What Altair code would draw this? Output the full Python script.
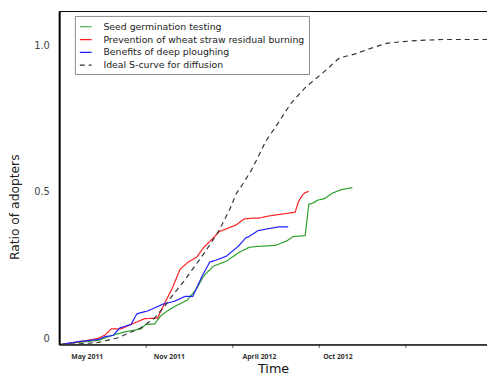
import altair as alt
import pandas as pd

# Series names (legend order)
series_names = [
    "Seed germination testing",
    "Prevention of wheat straw residual burning",
    "Benefits of deep ploughing",
    "Ideal S-curve for diffusion",
]
series_colors = ["#2ca02c", "#ff2020", "#2020ff", "#333333"]
series_dashes = [[1, 0], [1, 0], [1, 0], [5, 4]]

# x = weeks since start, y = ratio of adopters
green_x = [0.5, 5.9, 11.8, 15.7, 19.8, 24.6, 26.0, 28.7, 30.5, 32.5, 35.5, 38.5, 41.4, 43.5, 46.4, 50.3,
           54.1, 57.1, 59.2, 65.1, 68.6, 70.4, 74.0, 75.1, 76.3, 77.8, 79.9, 82.0, 84.9, 88.2]
green_y = [-0.019, -0.013, -0.006, 0.010, 0.023, 0.033, 0.048, 0.050, 0.077, 0.094, 0.114, 0.131, 0.171, 0.214,
           0.247, 0.264, 0.294, 0.311, 0.314, 0.318, 0.334, 0.348, 0.351, 0.458, 0.462, 0.472, 0.478, 0.495,
           0.508, 0.515]

red_x = [0.6, 8.0, 11.8, 13.9, 15.7, 18.6, 22.8, 25.7, 29.6, 31.7, 34.0, 36.4, 38.8, 41.4, 43.5, 45.9, 48.2,
         51.2, 53.3, 55.6, 58.6, 60.1, 63.0, 67.2, 71.0, 71.9, 73.1, 74.0, 75.1]
red_y = [-0.020, -0.007, 0.001, 0.013, 0.033, 0.033, 0.054, 0.068, 0.070, 0.120, 0.171, 0.237, 0.261, 0.278,
         0.311, 0.338, 0.365, 0.378, 0.388, 0.408, 0.411, 0.411, 0.418, 0.425, 0.431, 0.465, 0.488, 0.498, 0.502]

blue_x = [0.6, 5.9, 11.8, 13.9, 16.3, 18.3, 21.6, 23.4, 26.6, 31.1, 34.6, 37.9, 40.2, 42.9, 45.3, 47.3, 50.3,
          53.8, 56.2, 57.1, 59.8, 63.0, 66.0, 68.9]
blue_y = [-0.020, -0.010, -0.003, 0.007, 0.011, 0.037, 0.048, 0.085, 0.094, 0.117, 0.127, 0.144, 0.144, 0.211,
          0.261, 0.268, 0.281, 0.314, 0.344, 0.348, 0.368, 0.375, 0.381, 0.381]

ideal_x = [0.6, 5.0, 11.8, 17.8, 24.6, 28.7, 32.0, 33.4, 37.6, 43.8, 47.9, 51.2, 53.3, 55.3, 57.7, 59.2, 62.1,
           65.7, 69.5, 74.0, 79.3, 84.3, 88.8, 93.8, 98.5, 103.6, 108.6, 115.4, 128.7]
ideal_y = [-0.020, -0.019, -0.013, 0.003, 0.037, 0.070, 0.114, 0.137, 0.197, 0.294, 0.365, 0.438, 0.495, 0.528,
           0.572, 0.605, 0.672, 0.732, 0.799, 0.856, 0.906, 0.957, 0.970, 0.990, 1.007, 1.013, 1.017, 1.020,
           1.020]

# Axis ticks and labels
x_tick_values = [26, 52, 78, 104]
x_label_values = [8.3, 33.0, 60.1, 83.7]
x_label_texts = ["May 2011", "Nov 2011", "April 2012", "Oct 2012"]
y_tick_values = [0, 0.5, 1.0]
y_tick_texts = ["0", "0.5", "1.0"]

rows = []
for name, xs, ys in zip(series_names,
                        [green_x, red_x, blue_x, ideal_x],
                        [green_y, red_y, blue_y, ideal_y]):
    for i, (xv, yv) in enumerate(zip(xs, ys)):
        rows.append({"series": name, "t": xv, "ratio": yv, "order": i})
df = pd.DataFrame(rows)

label_df = pd.DataFrame({"t": x_label_values, "ratio": [0.0] * len(x_label_values)})

x_scale = alt.Scale(domain=[0, 128.7], nice=False, zero=False)
y_scale = alt.Scale(domain=[-0.02, 1.117], nice=False, zero=False)

x_label_expr = " : ".join(
    [f"datum.value == {v} ? '{t}'" for v, t in zip(x_label_values, x_label_texts)]) + " : ''"
y_label_expr = " : ".join(
    [f"datum.value == {v} ? '{t}'" for v, t in zip(y_tick_values, y_tick_texts)]) + " : ''"

legend_def = alt.Legend(
    title=None, orient="none", legendX=16, legendY=5,
    strokeColor="#8a8a8a", fillColor="white", padding=4, cornerRadius=0,
    labelFont="DejaVu Sans", labelFontSize=9.5, labelColor="#222222", labelLimit=400,
    symbolType="stroke", symbolSize=144, symbolStrokeWidth=1.2,
    rowPadding=1, labelOffset=11,
)

y_axis = alt.Axis(orient="left", values=y_tick_values, labelExpr=y_label_expr, ticks=False,
                  labelPadding=10, labelFont="DejaVu Sans", labelFontSize=10,
                  labelColor="#444444", domainColor="black", domainWidth=2, grid=False,
                  title="Ratio of adopters", titleFont="DejaVu Sans", titleFontSize=12.5,
                  titleFontWeight="normal", titleColor="#222222",
                  titleX=-45, titleY=199, titleBaseline="middle")

lines = alt.Chart(df).mark_line(strokeWidth=1.2).encode(
    x=alt.X("t:Q", scale=x_scale,
            axis=alt.Axis(orient="bottom", values=x_tick_values, labels=False, tickSize=3,
                          tickColor="#555", domainColor="black", domainWidth=1, grid=False,
                          title=None)),
    y=alt.Y("ratio:Q", scale=y_scale, axis=y_axis),
    color=alt.Color("series:N", scale=alt.Scale(domain=series_names, range=series_colors),
                    legend=legend_def),
    strokeDash=alt.StrokeDash("series:N", scale=alt.Scale(domain=series_names, range=series_dashes),
                              legend=legend_def),
    order="order:Q",
)

labels = alt.Chart(label_df).mark_point(opacity=0).encode(
    x=alt.X("t:Q", scale=x_scale,
            axis=alt.Axis(orient="bottom", values=x_label_values, labelExpr=x_label_expr,
                          ticks=False, domain=False,
                          labelFont="Open Sans", labelFontSize=7, labelFontWeight="bold",
                          labelColor="#333333", labelPadding=8, grid=False,
                          title="Time", titleFont="DejaVu Sans", titleFontSize=13,
                          titleFontWeight="normal", titleColor="#111111",
                          titlePadding=4)),
    y=alt.Y("ratio:Q", scale=y_scale, axis=y_axis),
)

chart = alt.layer(lines, labels).resolve_axis(x="independent").properties(
    width=435, height=339,
    padding={"left": 52, "top": 0, "right": 0, "bottom": 31},
    autosize=alt.AutoSizeParams(type="none"),
).configure_view(stroke="black", strokeWidth=1)

chart.save("out.html", embed_options={"renderer": "svg", "actions": False})
